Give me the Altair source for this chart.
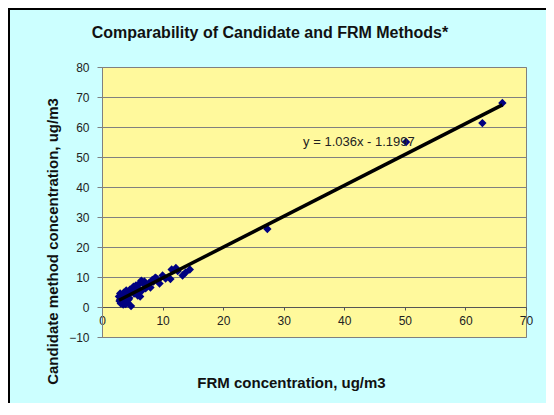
import altair as alt
import pandas as pd

# FRM (x) vs candidate method (y) concentrations, ug/m3
frm = [2.8, 3.0, 3.0, 3.2, 3.5, 3.5, 3.8, 4.0, 4.2, 4.5, 4.5, 4.8, 5.0, 5.2,
       5.5, 5.8, 6.0, 6.3, 6.5, 7.0, 7.5, 8.0, 8.5, 8.8, 9.0, 9.5, 10.0,
       11.3, 11.5, 12.2, 13.3, 14.5, 27.3, 50.2, 62.8, 66.1,
       2.9, 3.3, 3.6, 4.1, 4.6, 5.3, 5.6, 6.1, 6.8, 7.2, 7.8, 8.3, 9.2, 10.5,
       12.5, 13.8, 3.1, 3.9, 4.4, 5.9, 6.6]
candidate = [3.5, 4.5, 2.5, 1.8, 3.8, 0.8, 2.0, 5.5, 1.5, 4.5, 3.0, 0.3, 5.5, 6.8,
             6.5, 5.0, 7.5, 3.5, 8.8, 8.5, 7.0, 6.5, 8.5, 9.8, 9.5, 7.8, 10.5,
             9.3, 12.5, 13.0, 10.5, 12.5, 26.0, 55.0, 61.3, 68.0,
             2.0, 3.0, 4.8, 3.5, 5.8, 4.5, 7.2, 6.0, 7.8, 6.2, 8.0, 9.0, 8.8, 9.5,
             12.0, 11.5, 1.2, 1.0, 2.5, 3.8, 5.5]

eq_text = ["y = 1.036x - 1.1997"]
eq_x = [33.2]
eq_y = [55.0]

x_ticks = [0, 10, 20, 30, 40, 50, 60, 70]
y_ticks = [-10, 0, 10, 20, 30, 40, 50, 60, 70, 80]

title_text = "Comparability of Candidate and FRM Methods*"

df = pd.DataFrame({"frm": frm, "cand": candidate})
eq_df = pd.DataFrame({"label": eq_text, "x": eq_x, "y": eq_y})

FONT = "Liberation Sans"

xscale = alt.Scale(domain=[0, 70], nice=False, zero=False)
yscale = alt.Scale(domain=[-10, 80], nice=False, zero=False)

xaxis = alt.Axis(
    values=x_ticks, tickCount=20, grid=False, offset=-30, labelFlush=False, labelOverlap=False,
    domainColor="#555555", tickColor="#555555", tickSize=3, labelPadding=5,
    labelFont=FONT, labelFontSize=12, labelColor="#222222",
    title="FRM concentration, ug/m3", titleFont=FONT, titleFontSize=15,
    titleFontWeight="bold", titleColor="#111111",
    titleX=189, titleY=75, titleAlign="center", titleBaseline="middle",
)
yaxis = alt.Axis(
    values=y_ticks, tickCount=20, grid=True, gridColor="#808080", gridWidth=1,
    labelOverlap=False, labelFlush=False,
    domainColor="#808080", tickColor="#808080", tickSize=5, labelPadding=8,
    labelFont=FONT, labelFontSize=12, labelColor="#222222",
    title="Candidate method concentration, ug/m3", titleFont=FONT, titleFontSize=15,
    titleFontWeight="bold", titleColor="#111111", titleAngle=-90,
    titleX=-50, titleY=174, titleAlign="center", titleBaseline="middle",
)

base = alt.Chart(df)

points = base.mark_point(shape="diamond", filled=True, size=70, color="#000080", opacity=1).encode(
    x=alt.X("frm:Q", scale=xscale, axis=xaxis),
    y=alt.Y("cand:Q", scale=yscale, axis=yaxis),
)

trend = base.transform_regression("frm", "cand").mark_line(
    color="#000000", strokeWidth=3.5
).encode(x="frm:Q", y="cand:Q")

label = alt.Chart(eq_df).mark_text(
    align="left", baseline="middle", font=FONT, fontSize=13, color="#222222"
).encode(x="x:Q", y="y:Q", text="label:N")

title = alt.Chart(eq_df).mark_text(
    align="center", baseline="middle", font=FONT, fontSize=16, fontWeight="bold",
    color="#111111"
).encode(x=alt.value(168), y=alt.value(-34), text=alt.value(title_text))

frame_top = alt.Chart(eq_df).mark_rule(color="#000000", strokeWidth=3).encode(
    x=alt.value(-94), x2=alt.value(444), y=alt.value(-58.5)
)
frame_left = alt.Chart(eq_df).mark_rule(color="#000000", strokeWidth=3).encode(
    x=alt.value(-93.5), y=alt.value(-59), y2=alt.value(336)
)

chart = alt.layer(points, trend, label, title, frame_top, frame_left).properties(
    width=424,
    height=270,
    background="#CCFFFF",
    padding={"left": 94, "top": 59, "right": 20, "bottom": 66},
    autosize=alt.AutoSizeParams(type="none"),
).configure_view(
    fill="#FFF99C", stroke="#808080", strokeWidth=1
)

chart.save("out.html", embed_options={"renderer": "svg", "actions": False})
